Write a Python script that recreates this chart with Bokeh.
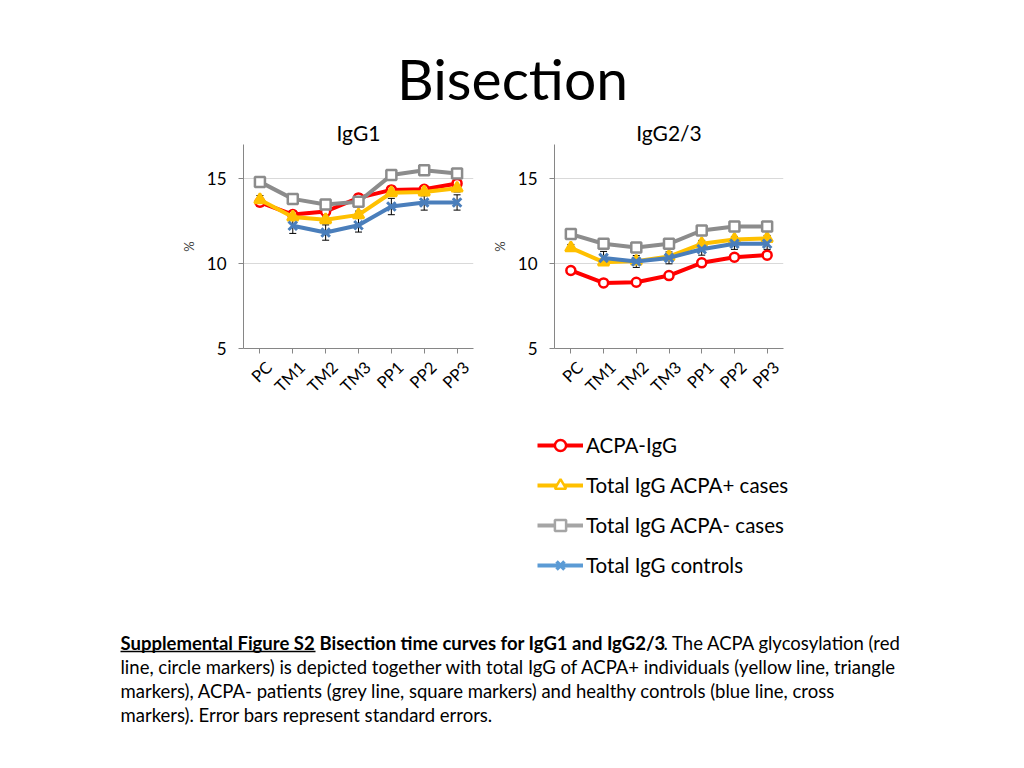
import math
from bokeh.plotting import figure
from bokeh.layouts import column, row
from bokeh.models import (Range1d, FixedTicker, Whisker, ColumnDataSource,
                          Legend, LegendItem, Spacer, TeeHead, Title)
from bokeh.core.properties import value
from bokeh.embed import file_html
from bokeh.resources import INLINE

NAN = float("nan")
FONT = "Lato"

# ---------------- data ----------------
timepoints = ["PC", "TM1", "TM2", "TM3", "PP1", "PP2", "PP3"]
series_names = ["ACPA-IgG", "Total IgG ACPA+ cases", "Total IgG ACPA- cases", "Total IgG controls"]

igg1_acpa = [13.60, 12.88, 13.06, 13.86, 14.33, 14.37, 14.71]
igg1_pos = [13.75, 12.73, 12.57, 12.86, 14.16, 14.20, 14.43]
igg1_neg = [14.80, 13.80, 13.47, 13.63, 15.20, 15.49, 15.29]
igg1_ctrl = [NAN, 12.22, 11.82, 12.25, 13.35, 13.59, 13.59]

igg1_acpa_se = [0.25, 0.22, 0.25, 0.22, 0.22, 0.20, 0.22]
igg1_pos_se = [0.25, 0.20, 0.22, 0.22, 0.22, 0.22, 0.22]
igg1_neg_se = [0.15, 0.15, 0.15, 0.15, 0.15, 0.15, 0.15]
igg1_ctrl_se = [NAN, 0.45, 0.45, 0.40, 0.48, 0.45, 0.45]

igg23_acpa = [9.59, 8.86, 8.90, 9.29, 10.04, 10.37, 10.49]
igg23_pos = [10.92, 10.08, 10.14, 10.41, 11.16, 11.41, 11.47]
igg23_neg = [11.73, 11.16, 10.94, 11.16, 11.94, 12.18, 12.18]
igg23_ctrl = [NAN, 10.33, 10.12, 10.33, 10.84, 11.16, 11.16]

igg23_acpa_se = [0.12, 0.12, 0.12, 0.12, 0.12, 0.12, 0.12]
igg23_pos_se = [0.20, 0.18, 0.18, 0.18, 0.20, 0.18, 0.18]
igg23_neg_se = [0.12, 0.12, 0.12, 0.12, 0.12, 0.12, 0.12]
igg23_ctrl_se = [NAN, 0.38, 0.35, 0.35, 0.35, 0.33, 0.33]

y_ticks = [5, 10, 15]
title_text = "Bisection"
panel_titles = ["IgG1", "IgG2/3"]
caption_bold_u = "Supplemental Figure S2"
caption_bold = "Bisection time curves for IgG1 and IgG2/3"
caption_line1_rest = ". The ACPA glycosylation (red"
caption_lines = [
    "line, circle markers) is depicted together with total IgG of ACPA+ individuals (yellow line, triangle",
    "markers), ACPA- patients (grey line, square markers) and healthy controls (blue line, cross",
    "markers). Error bars represent standard errors.",
]

# ---------------- styles ----------------
chart_colors = ["#FF0000", "#FFC000", "#8C8C8C", "#4A7EBB"]
legend_colors = ["#FF0000", "#FFC000", "#A5A5A5", "#5B9BD5"]
markers = ["circle", "triangle", "square", "x"]
marker_sizes = [9, 11, 10, 12]
marker_fill = ["white", "#FFC000", "white", None]
AXIS_COLOR = "#868686"
PAGE_W = 1008
CAP_SIZE = "18.5px"
LABEL_SHIFT = 0.28   # rotated category labels sit slightly right of their tick (Excel style)

xpos = list(range(len(timepoints)))


def make_chart(values, errors, min_left, panel_title):
    p = figure(x_range=Range1d(-0.5, len(timepoints) - 0.5), y_range=Range1d(5, 17),
               frame_width=230 if min_left == 75 else 229, frame_height=204,
               min_border_left=min_left, min_border_right=15, min_border_top=32,
               min_border_bottom=62, toolbar_location=None, output_backend="svg", title=None)
    p.add_layout(Title(text=panel_title, align="center", text_font=FONT,
                       text_font_size="21px", text_font_style="normal",
                       text_color="black", standoff=0, offset=0), "above")
    p.outline_line_color = None
    p.xgrid.visible = False
    p.ygrid.grid_line_color = "#D9D9D9"
    p.yaxis.ticker = FixedTicker(ticks=y_ticks)
    # x axis: tick marks at categories (minor ticks), labels at shifted major ticks
    p.xaxis.ticker = FixedTicker(ticks=[x + LABEL_SHIFT for x in xpos], minor_ticks=xpos)
    p.xaxis.major_label_overrides = {x + LABEL_SHIFT: t for x, t in zip(xpos, timepoints)}
    p.xaxis.major_tick_out = 0
    p.xaxis.major_tick_in = 0
    p.xaxis.minor_tick_out = 5
    p.xaxis.minor_tick_in = 0
    p.xaxis.minor_tick_line_color = AXIS_COLOR
    p.yaxis.major_tick_out = 5
    p.yaxis.major_tick_in = 0
    p.yaxis.minor_tick_out = 0
    p.yaxis.minor_tick_in = 0
    for ax in (p.xaxis[0], p.yaxis[0]):
        ax.axis_line_color = AXIS_COLOR
        ax.major_tick_line_color = AXIS_COLOR
        ax.major_label_text_font = FONT
        ax.major_label_text_color = "black"
    p.yaxis.major_label_text_font_size = "17px"
    p.yaxis.major_label_standoff = 12
    p.yaxis.axis_label = "%"
    p.yaxis.axis_label_text_font = FONT
    p.yaxis.axis_label_text_font_style = "normal"
    p.yaxis.axis_label_text_font_size = "13px"
    p.yaxis.axis_label_standoff = 7
    p.xaxis.major_label_text_font_size = "16.5px"
    p.xaxis.major_label_orientation = math.pi / 4
    p.xaxis.major_label_standoff = 11

    for i, (vals, ses) in enumerate(zip(values, errors)):
        xs = [x for x, v in zip(xpos, vals) if not math.isnan(v)]
        up = [v + s for v, s in zip(vals, ses) if not math.isnan(v)]
        lo = [v - s for v, s in zip(vals, ses) if not math.isnan(v)]
        esrc = ColumnDataSource(dict(x=xs, upper=up, lower=lo))
        p.add_layout(Whisker(source=esrc, base="x", upper="upper", lower="lower",
                             line_color="black", line_width=1,
                             upper_head=TeeHead(size=7, line_color="black", line_width=1),
                             lower_head=TeeHead(size=7, line_color="black", line_width=1)))
    for i, vals in enumerate(values):
        src = ColumnDataSource(dict(x=xpos, y=vals))
        p.line("x", "y", source=src, line_color=chart_colors[i], line_width=4)
        p.scatter("x", "y", source=src, marker=markers[i], size=marker_sizes[i],
                  line_color=chart_colors[i], line_width=2.5 if i != 3 else 3,
                  fill_color=marker_fill[i])
    return p


# ---------------- header ----------------
HH = 112
header = figure(width=PAGE_W, height=HH, x_range=Range1d(0, PAGE_W), y_range=Range1d(HH, 0),
                x_axis_location=None, y_axis_location=None, toolbar_location=None,
                output_backend="svg", min_border=0, title=None)
header.outline_line_color = None
header.grid.visible = False
header.text(x=[512], y=[77], text=[title_text], text_font=value(FONT), text_font_size="57px",
            text_align="center", text_baseline="middle", text_color="black")

# ---------------- charts ----------------
p1 = make_chart([igg1_acpa, igg1_pos, igg1_neg, igg1_ctrl],
                [igg1_acpa_se, igg1_pos_se, igg1_neg_se, igg1_ctrl_se], 75, panel_titles[0])
p2 = make_chart([igg23_acpa, igg23_pos, igg23_neg, igg23_ctrl],
                [igg23_acpa_se, igg23_pos_se, igg23_neg_se, igg23_ctrl_se], 65, panel_titles[1])

# ---------------- footer (legend + caption) ----------------
FH = 350
footer = figure(width=PAGE_W, height=FH, x_range=Range1d(0, PAGE_W), y_range=Range1d(FH, 0),
                x_axis_location=None, y_axis_location=None, toolbar_location=None,
                output_backend="svg", min_border=0, title=None)
footer.outline_line_color = None
footer.grid.visible = False

items = []
for i, name in enumerate(series_names):
    src = ColumnDataSource(dict(x=[NAN], y=[NAN]))
    lr = footer.line("x", "y", source=src, line_color=legend_colors[i], line_width=4)
    sr = footer.scatter("x", "y", source=src, marker=markers[i],
                        line_color=legend_colors[i], line_width=2.5 if i != 3 else 3.5,
                        fill_color="white" if i != 3 else None)
    items.append(LegendItem(label=name, renderers=[lr, sr]))

legend = Legend(items=items, location=(537, 181), orientation="vertical",
                glyph_width=46, glyph_height=28, label_height=28, spacing=12,
                label_standoff=3, padding=0, margin=0,
                border_line_color=None, background_fill_alpha=0,
                label_text_font=FONT, label_text_font_size="20.5px", label_text_color="black")
footer.add_layout(legend)

cap_y = [232, 256, 280, 304]
footer.text(x=[120], y=[cap_y[0]], text=[caption_bold_u], text_font=value(FONT),
            text_font_size=CAP_SIZE, text_font_style="bold", text_baseline="middle",
            text_color="black")
footer.segment(x0=[120], y0=[cap_y[0] + 9], x1=[315], y1=[cap_y[0] + 9],
               line_color="black", line_width=1.4)
footer.text(x=[319], y=[cap_y[0]], text=[caption_bold], text_font=value(FONT),
            text_font_size=CAP_SIZE, text_font_style="bold", text_baseline="middle",
            text_color="black")
footer.text(x=[663], y=[cap_y[0]], text=[caption_line1_rest], text_font=value(FONT),
            text_font_size=CAP_SIZE, text_baseline="middle", text_color="black")
footer.text(x=[120] * 3, y=cap_y[1:], text=caption_lines, text_font=value(FONT),
            text_font_size=CAP_SIZE, text_baseline="middle", text_color="black")

layout = column(header, row(Spacer(width=168), p1, p2), footer, spacing=0)

open("out.html", "w").write(file_html(layout, INLINE))
